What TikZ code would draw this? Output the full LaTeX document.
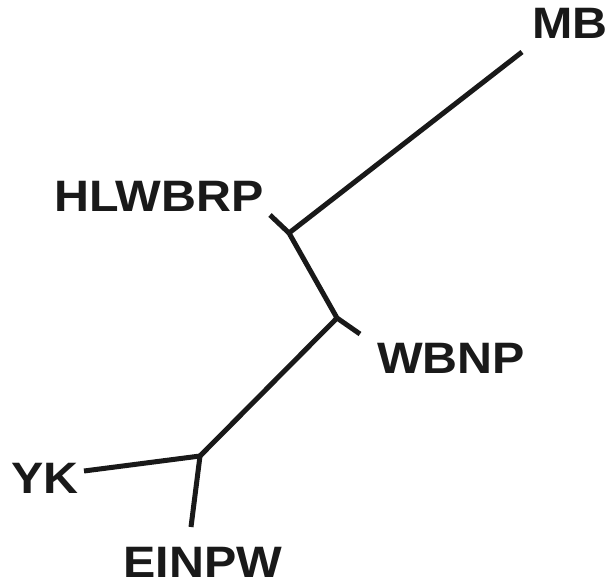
\documentclass[tikz,border=0pt]{standalone}
\usepackage{fontspec}
\setmainfont{Liberation Sans}[FakeStretch=1.1]
\begin{document}
\begin{tikzpicture}[x=1pt,y=-1pt,
  branch/.style={line width=5pt,black!90},
  taxon/.style={font=\bfseries\fontsize{44}{44}\selectfont,inner sep=0pt,anchor=base,text=black!90}]
\useasboundingbox (0,0) rectangle (612,582);
% junctions and leaf ends
\coordinate (j1) at (289,233);
\coordinate (j2) at (337,318);
\coordinate (j3) at (200,456);
\coordinate (eMB) at (522,52);
\coordinate (eH) at (270,215);
\coordinate (eW) at (360,334);
\coordinate (eY) at (84,471);
\coordinate (eE) at (191,527);
% labels
\node[taxon] (MB) at (570,38) {MB};
\node[taxon] (HL) at (159,211) {HLWBRP};
\node[taxon] (WB) at (451,373) {WBNP};
\node[taxon] (YK) at (45,493) {YK};
\node[taxon] (EI) at (203,577) {EINPW};
% branches
\draw[branch] (j1) -- (eMB);
\draw[branch] (j1) -- (eH);
\draw[branch] (j1) -- (j2);
\draw[branch] (j2) -- (eW);
\draw[branch] (j2) -- (j3);
\draw[branch] (j3) -- (eY);
\draw[branch] (j3) -- (eE);
\end{tikzpicture}
\end{document}
